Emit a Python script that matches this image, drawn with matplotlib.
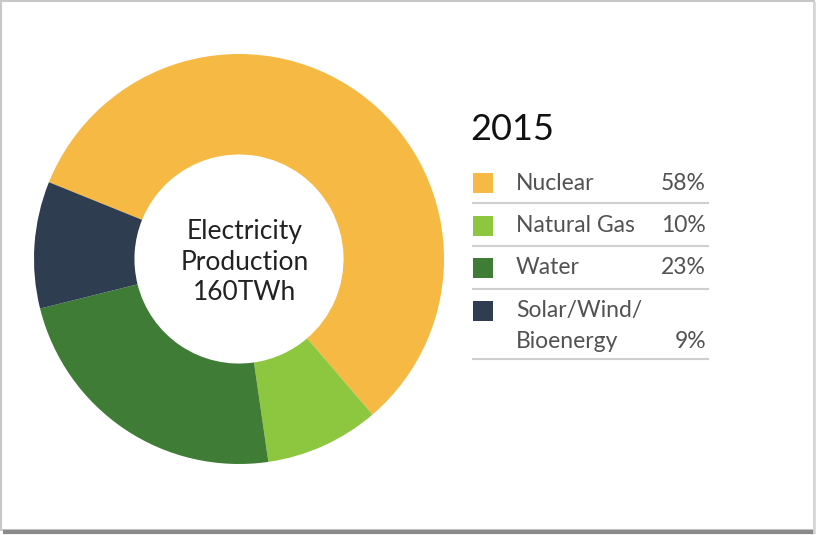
import matplotlib.pyplot as plt
from matplotlib.patches import Rectangle

# data
labels = ["Nuclear", "Natural Gas", "Water", "Solar/Wind/\nBioenergy"]
shares = [58, 10, 23, 9]            # printed in the legend
arc_shares = [57.6, 9.0, 23.4, 10.0]  # arc sizes as drawn in the picture
colors = ["#F5B944", "#8DC63F", "#3F7C36", "#2E3D50"]
year = "2015"
center_lines = ["Electricity", "Production", "160TWh"]

plt.rcParams["font.family"] = ["Lato", "DejaVu Sans"]

W, H = 817, 535
fig = plt.figure(figsize=(W / 100, H / 100), dpi=100)
ax = fig.add_axes([0, 0, 1, 1])
ax.set_xlim(0, W)
ax.set_ylim(H, 0)
ax.axis("off")

# frame around the card
ax.add_patch(Rectangle((1, 1), W - 4, H - 6, fill=False, edgecolor="#c8c8c8", lw=1.5))
ax.plot([3, W - 2], [H - 3, H - 3], color="#8a8a8a", lw=3, solid_capstyle="butt")
ax.plot([W - 3, W - 3], [3, H - 3], color="#d8d8d8", lw=2)

# donut (separate axes with y up so angles go the normal way)
cx, cy, r = 239, 259, 205
pax = fig.add_axes([(cx - r) / W, 1 - (cy + r) / H, 2 * r / W, 2 * r / H])
pax.pie(arc_shares, colors=colors, startangle=158, counterclock=False,
        wedgeprops=dict(width=0.49, edgecolor="none"), radius=1)
pax.set_xlim(-1, 1)
pax.set_ylim(-1, 1)
pax.set_aspect("equal")
pax.axis("off")

for i, line in enumerate(center_lines):
    ax.text(cx + 6, 232 + i * 30, line, ha="center", va="center",
            fontsize=19, color="#222222")

# legend block
ax.text(470, 130, year, ha="left", va="center", fontsize=26, color="#111111")
row_y = [183, 226, 268, 311]
sep_y = [203, 246, 289, 359]
for i, (lab, val, col) in enumerate(zip(labels, shares, colors)):
    y = row_y[i]
    ax.add_patch(Rectangle((473, y - 10), 20, 20, facecolor=col, edgecolor="none"))
    parts = lab.split("\n")
    for j, part in enumerate(parts):
        ax.text(516, y + j * 30, part, ha="left", va="center", fontsize=16.5,
                color="#525252")
    ax.text(706, y + (len(parts) - 1) * 30, f"{val}%", ha="right", va="center",
            fontsize=16.5, color="#525252")
    ax.plot([473, 708], [sep_y[i], sep_y[i]], color="#cfcfcf", lw=1.5)

fig.savefig("out.png", dpi=100, facecolor="white")
